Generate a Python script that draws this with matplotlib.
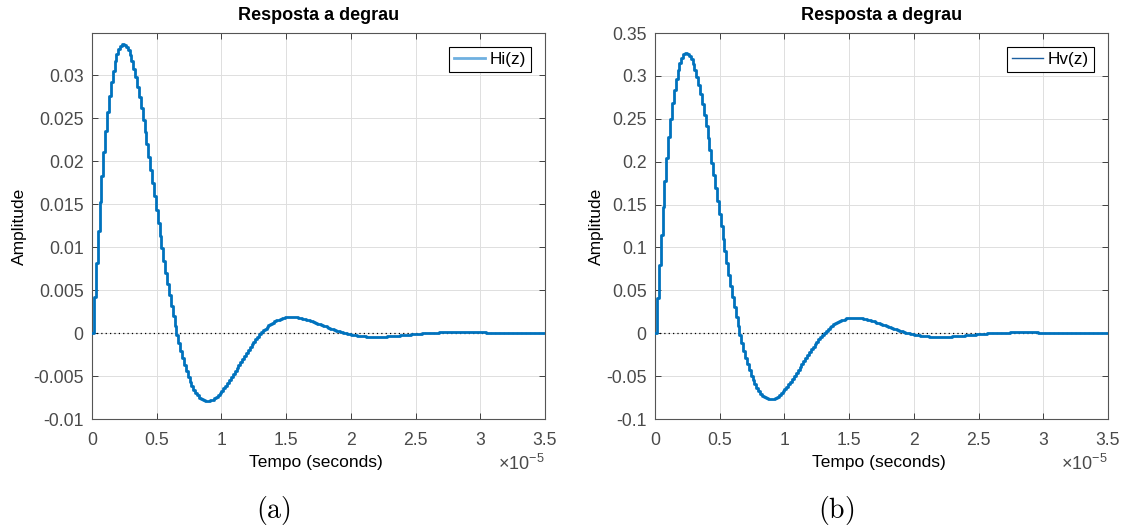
import numpy as np
import matplotlib
matplotlib.use("Agg")
import matplotlib.pyplot as plt
from matplotlib.lines import Line2D

plt.rcParams["font.family"] = ["Liberation Sans", "DejaVu Sans"]
plt.rcParams["mathtext.fontset"] = "custom"
plt.rcParams["mathtext.rm"] = "Liberation Sans"
plt.rcParams["mathtext.it"] = "Liberation Sans"

# sample time of the discrete step response
TS = 1.45e-7

# Hi(z) step response, in units of 1e-4
HI_E4 = [
    0, 42.37, 81.85, 118.39, 151.96, 182.56, 210.20, 234.90, 256.70, 275.66,
    291.85, 305.35, 316.25, 324.65, 330.65, 334.37, 335.93, 335.46, 333.09, 328.95,
    323.17, 315.89, 307.24, 297.36, 286.38, 274.44, 261.66, 248.17, 234.09, 219.54,
    204.63, 189.47, 174.17, 158.82, 143.51, 128.33, 113.36, 98.67, 84.33, 70.40,
    56.94, 43.99, 31.60, 19.80, 8.62, -1.91, -11.77, -20.95, -29.44, -37.23,
    -44.32, -50.71, -56.41, -61.43, -65.78, -69.48, -72.55, -75.01, -76.88, -78.19,
    -78.97, -79.25, -79.06, -78.43, -77.39, -75.97, -74.20, -72.11, -69.74, -67.12,
    -64.28, -61.25, -58.06, -54.73, -51.29, -47.77, -44.19, -40.58, -36.96, -33.35,
    -29.77, -26.24, -22.78, -19.41, -16.14, -12.98, -9.94, -7.03, -4.26, -1.64,
    0.83, 3.13, 5.27, 7.25, 9.06, 10.70, 12.17, 13.48, 14.63, 15.62,
    16.42, 17.12, 17.67, 18.09, 18.38, 18.55, 18.60, 18.54, 18.38, 18.12,
    17.75, 17.32, 16.83, 16.27, 15.64, 14.96, 14.24, 13.48, 12.69, 11.87,
    11.05, 10.22, 9.38, 8.54, 7.70, 6.87, 6.05, 5.25, 4.47, 3.71,
    2.92, 2.19, 1.51, 0.86, 0.26, -0.31, -0.84, -1.33, -1.78, -2.19,
    -2.57, -2.91, -3.21, -3.47, -3.69, -3.88, -4.04, -4.17, -4.27, -4.34,
    -4.38, -4.39, -4.37, -4.33, -4.27, -4.17, -4.07, -3.95, -3.81, -3.66,
    -3.49, -3.33, -3.16, -2.98, -2.79, -2.60, -2.40, -2.19, -1.98, -1.77,
    -1.57, -1.37, -1.17, -0.98, -0.80, -0.63, -0.47, -0.32, -0.18, -0.05,
    0.09, 0.21, 0.33, 0.43, 0.53, 0.62, 0.70, 0.77, 0.83, 0.88,
    0.92, 0.96, 0.99, 1.01, 1.02, 1.03, 1.03, 1.02, 1.01, 1.00,
    0.98, 0.95, 0.92, 0.89, 0.85, 0.81, 0.77, 0.73, 0.69, 0.64,
    0.60, 0.55, 0.50, 0.45, 0.41, 0.36, 0.32, 0.27, 0.23, 0.19,
    0.15, 0.11, 0.07, 0.04, 0.00, -0.03, -0.05, -0.08, -0.11, -0.13,
    -0.15, -0.17, -0.18, -0.20, -0.21, -0.22, -0.23, -0.23, -0.24, -0.24,
    -0.24, -0.24,
]

# Hv(z) step response, in units of 1e-3
HV_E3 = [
    0, 41.18, 79.56, 115.08, 147.70, 177.45, 204.31, 228.32, 249.51, 267.94,
    283.68, 296.80, 307.40, 315.56, 321.39, 325.01, 326.52, 326.07, 323.76, 319.74,
    314.12, 307.05, 298.64, 289.03, 278.36, 266.76, 254.33, 241.22, 227.54, 213.39,
    198.90, 184.16, 169.29, 154.37, 139.49, 124.74, 110.19, 95.91, 81.97, 68.43,
    55.35, 42.76, 30.72, 19.25, 8.38, -1.86, -11.44, -20.36, -28.62, -36.19,
    -43.08, -49.29, -54.83, -59.71, -63.94, -67.53, -70.52, -72.91, -74.73, -76.00,
    -76.76, -77.03, -76.85, -76.23, -75.22, -73.84, -72.12, -70.09, -67.79, -65.24,
    -62.48, -59.54, -56.43, -53.20, -49.85, -46.43, -42.95, -39.44, -35.93, -32.42,
    -28.94, -25.51, -22.14, -18.87, -15.69, -12.62, -9.66, -6.83, -4.14, -1.59,
    0.81, 3.04, 5.12, 7.05, 8.81, 10.40, 11.83, 13.10, 14.22, 15.18,
    15.96, 16.64, 17.18, 17.58, 17.87, 18.03, 18.08, 18.02, 17.87, 17.61,
    17.25, 16.84, 16.36, 15.81, 15.20, 14.54, 13.84, 13.10, 12.33, 11.54,
    10.74, 9.93, 9.12, 8.30, 7.48, 6.68, 5.88, 5.10, 4.34, 3.61,
    2.84, 2.13, 1.47, 0.84, 0.25, -0.30, -0.82, -1.29, -1.73, -2.13,
    -2.50, -2.83, -3.12, -3.37, -3.59, -3.77, -3.93, -4.05, -4.15, -4.22,
    -4.26, -4.27, -4.25, -4.21, -4.15, -4.05, -3.96, -3.84, -3.70, -3.56,
    -3.39, -3.24, -3.07, -2.90, -2.71, -2.53, -2.33, -2.13, -1.92, -1.72,
    -1.53, -1.33, -1.14, -0.95, -0.78, -0.61, -0.46, -0.31, -0.17, -0.05,
    0.09, 0.20, 0.32, 0.42, 0.52, 0.60, 0.68, 0.75, 0.81, 0.86,
    0.89, 0.93, 0.96, 0.98, 0.99, 1.00, 1.00, 0.99, 0.98, 0.97,
    0.95, 0.92, 0.89, 0.87, 0.83, 0.79, 0.75, 0.71, 0.67, 0.62,
    0.58, 0.53, 0.49, 0.44, 0.40, 0.35, 0.31, 0.26, 0.22, 0.18,
    0.15, 0.11, 0.07, 0.04, 0.00, -0.03, -0.05, -0.08, -0.11, -0.13,
    -0.15, -0.17, -0.17, -0.19, -0.20, -0.21, -0.22, -0.22, -0.23, -0.23,
    -0.23, -0.23,
]

XTICKS = [0, 0.5, 1, 1.5, 2, 2.5, 3, 3.5]
XTICKLABELS = ["0", "0.5", "1", "1.5", "2", "2.5", "3", "3.5"]
HI_YTICKS = [-0.01, -0.005, 0, 0.005, 0.01, 0.015, 0.02, 0.025, 0.03]
HI_YTICKLABELS = ["-0.01", "-0.005", "0", "0.005", "0.01", "0.015", "0.02", "0.025", "0.03"]
HV_YTICKS = [-0.1, -0.05, 0, 0.05, 0.1, 0.15, 0.2, 0.25, 0.3, 0.35]
HV_YTICKLABELS = ["-0.1", "-0.05", "0", "0.05", "0.1", "0.15", "0.2", "0.25", "0.3", "0.35"]

LINE_BLUE = "#0072BD"
AX_GREY = "#404040"

t = np.arange(len(HI_E4)) * TS / 1e-5   # in units of 1e-5 s
hi = np.array(HI_E4) * 1e-4
hv = np.array(HV_E3) * 1e-3


def panel(ax, y, ylim, yticks, yticklabels, name, leg_color, leg_lw, ylab_x, caption):
    ax.step(t, y, where="post", color=LINE_BLUE, lw=2.0, zorder=3)
    ax.plot([0, 3.5], [0, 0], color="black", ls=(0, (1, 2.5)), lw=0.9, zorder=2)
    ax.set_xlim(0, 3.5)
    ax.set_ylim(*ylim)
    ax.set_xticks(XTICKS)
    ax.set_xticklabels(XTICKLABELS)
    ax.set_yticks(yticks)
    ax.set_yticklabels(yticklabels)
    ax.grid(True, color="#dedede", lw=0.7, zorder=0)
    ax.set_axisbelow(True)
    ax.tick_params(axis="both", direction="in", length=4, width=0.7, top=True, right=True,
                   colors=AX_GREY, labelsize=12.7, labelcolor="#4a4a4a")
    ax.tick_params(axis="x", pad=9.5)
    ax.tick_params(axis="y", pad=6)
    for s in ax.spines.values():
        s.set_color("#555555")
        s.set_linewidth(0.8)
    ax.set_title("Resposta a degrau", fontsize=13, fontweight="bold", pad=9.5)
    ax.set_xlabel("Tempo (seconds)", fontsize=12.5, color="black")
    ax.xaxis.set_label_coords(0.495, -0.094)
    ax.set_ylabel("Amplitude", fontsize=12.5, color="black")
    ax.yaxis.set_label_coords(ylab_x, 0.5)
    ax.text(1.0, -0.133, r"$\times10^{-5}$", transform=ax.transAxes, ha="right",
            va="baseline", fontsize=13, color="#4a4a4a")
    h = Line2D([], [], color=leg_color, lw=leg_lw)
    leg = ax.legend([h], [name], loc="upper right", fontsize=12.3, fancybox=False,
                    edgecolor="black", framealpha=1, handlelength=1.8, handletextpad=0.3,
                    borderpad=0.3, borderaxespad=0.8)
    leg.get_frame().set_linewidth(0.8)
    pos = ax.get_position()
    ax.figure.text(pos.x0 + pos.width * 0.4, 0.021, r"$\mathrm{" + caption + "}$",
                   math_fontfamily="cm", fontsize=20, ha="center", va="baseline")


fig = plt.figure(figsize=(11.22, 5.29), dpi=100)
ax1 = fig.add_axes([92 / 1122, 1 - 419 / 529, 453 / 1122, 386 / 529])
ax2 = fig.add_axes([655 / 1122, 1 - 419 / 529, 453 / 1122, 386 / 529])

panel(ax1, hi, (-0.01, 0.0349), HI_YTICKS, HI_YTICKLABELS, "Hi(z)", "#6fb0e0", 2.0, -0.143, "(a)")
panel(ax2, hv, (-0.1, 0.35), HV_YTICKS, HV_YTICKLABELS, "Hv(z)", "#1c5fa0", 1.0, -0.113, "(b)")

fig.savefig("out.png", dpi=100)
